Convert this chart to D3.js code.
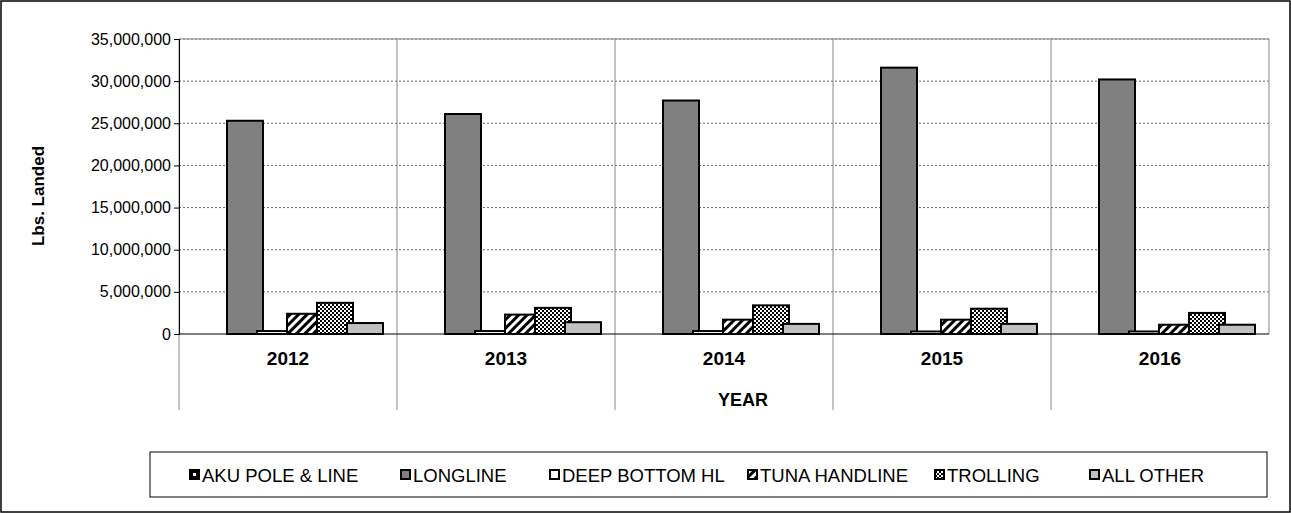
<!DOCTYPE html>
<html><head><meta charset="utf-8">
<script src="https://cdn.jsdelivr.net/npm/d3@7"></script>
<style>body{margin:0;background:#fff}text{font-family:Arial,"Liberation Sans",sans-serif}</style>
</head><body><svg id="c" width="1291" height="513"></svg>
<script>
var years = ["2012", "2013", "2014", "2015", "2016"];
var series = ["AKU POLE & LINE", "LONGLINE", "DEEP BOTTOM HL", "TUNA HANDLINE", "TROLLING", "ALL OTHER"];
var aku = [0, 0, 0, 0, 0];
var longline = [25300000, 26100000, 27700000, 31600000, 30200000];
var deepBottom = [350000, 350000, 350000, 300000, 300000];
var tunaHandline = [2400000, 2300000, 1700000, 1700000, 1100000];
var trolling = [3700000, 3100000, 3400000, 3000000, 2500000];
var allOther = [1300000, 1400000, 1200000, 1200000, 1100000];
var yTicks = [0, 5000000, 10000000, 15000000, 20000000, 25000000, 30000000, 35000000];
var values = [aku, longline, deepBottom, tunaHandline, trolling, allOther];

var svg = d3.select("#c");
var defs = svg.append("defs");
var hatch = defs.append("pattern").attr("id", "hatch").attr("patternUnits", "userSpaceOnUse")
  .attr("width", 6).attr("height", 6).attr("patternTransform", "rotate(45)");
hatch.append("rect").attr("width", 6).attr("height", 6).attr("fill", "#fff");
hatch.append("rect").attr("width", 3).attr("height", 6).attr("fill", "#000");
var dots = defs.append("pattern").attr("id", "dots").attr("patternUnits", "userSpaceOnUse")
  .attr("width", 4).attr("height", 4);
dots.append("rect").attr("width", 4).attr("height", 4).attr("fill", "#fff");
dots.append("rect").attr("width", 2).attr("height", 2).attr("fill", "#000");
dots.append("rect").attr("x", 2).attr("y", 2).attr("width", 2).attr("height", 2).attr("fill", "#000");
var fills = ["#000", "#808080", "#fff", "url(#hatch)", "url(#dots)", "#c0c0c0"];

svg.append("rect").attr("x", 1).attr("y", 1).attr("width", 1289).attr("height", 511)
  .attr("fill", "none").attr("stroke", "#000").attr("stroke-width", 1.5);

var pLeft = 179, pRight = 1269, pTop = 39, pBottom = 334;
var x = d3.scaleBand().domain(years).range([pLeft, pRight]);
var y = d3.scaleLinear().domain([0, 35000000]).range([pBottom, pTop]);

var g = svg.append("g");
// gridlines
g.selectAll(".gl").data(yTicks.slice(1)).enter().append("line")
  .attr("x1", pLeft).attr("x2", pRight).attr("y1", y).attr("y2", y)
  .attr("stroke", "#000").attr("stroke-dasharray", "2,2").attr("stroke-width", 0.6);
// vertical separators
g.selectAll(".vs").data(years.slice(1)).enter().append("line")
  .attr("x1", d => x(d)).attr("x2", d => x(d)).attr("y1", pTop).attr("y2", 410)
  .attr("stroke", "#888").attr("stroke-width", 1);
g.append("line").attr("x1", pLeft).attr("x2", pLeft).attr("y1", pTop).attr("y2", 410).attr("stroke", "#888");
g.append("line").attr("x1", pRight).attr("x2", pRight).attr("y1", pTop).attr("y2", pBottom).attr("stroke", "#888");
g.append("line").attr("x1", pLeft).attr("x2", pRight).attr("y1", pTop).attr("y2", pTop).attr("stroke", "#888");

var yAxis = svg.append("g").attr("transform", "translate(" + pLeft + ",0)")
  .call(d3.axisLeft(y).tickValues(yTicks).tickSize(5).tickFormat(d3.format(",")));
yAxis.select(".domain").attr("stroke", "#000");
yAxis.selectAll("text").attr("font-size", 16).attr("fill", "#000");

// bars
var bw = 36, step = 30, off = 18;
values.forEach(function(vals, si) {
  svg.append("g").selectAll("rect").data(vals).enter().filter(d => d > 0).append("rect")
    .attr("x", (d, i) => x(years[i]) + off + si * step)
    .attr("y", d => y(d)).attr("width", bw).attr("height", d => pBottom - y(d))
    .attr("fill", fills[si]).attr("stroke", "#000").attr("stroke-width", 2);
});

svg.append("line").attr("x1", pLeft).attr("x2", pRight).attr("y1", pBottom).attr("y2", pBottom).attr("stroke", "#000");

svg.selectAll(".yl").data(years).enter().append("text")
  .attr("x", d => x(d) + x.bandwidth() / 2).attr("y", 365).attr("text-anchor", "middle")
  .attr("font-size", 19).attr("font-weight", "bold").text(d => d);
svg.append("text").attr("x", 743).attr("y", 406).attr("text-anchor", "middle")
  .attr("font-size", 18).attr("font-weight", "bold").text("YEAR");
svg.append("text").attr("transform", "translate(44,196) rotate(-90)").attr("text-anchor", "middle")
  .attr("font-size", 17).attr("font-weight", "bold").text("Lbs. Landed");

// legend
svg.append("rect").attr("x", 150).attr("y", 452).attr("width", 1117).attr("height", 45)
  .attr("fill", "#fff").attr("stroke", "#000").attr("stroke-width", 1);
var legX = [190, 401, 550, 748, 935, 1090];
series.forEach(function(s, i) {
  var lg = svg.append("g").attr("transform", "translate(" + legX[i] + ",475)");
  lg.append("rect").attr("x", 0).attr("y", -5).attr("width", 9).attr("height", 9)
    .attr("fill", fills[i]).attr("stroke", "#000").attr("stroke-width", 2);
  if (i === 0) lg.append("rect").attr("x", 3).attr("y", -2).attr("width", 3).attr("height", 3).attr("fill", "#fff");
  lg.append("text").attr("x", 12).attr("y", 6.5).attr("font-size", 18.5).text(s);
});
</script></body></html>
